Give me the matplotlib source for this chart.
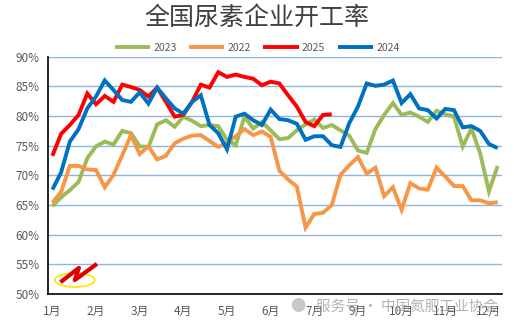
import numpy as np
import matplotlib
matplotlib.use('agg')
import matplotlib.pyplot as plt
from matplotlib.patches import Ellipse

plt.rcParams['font.family'] = ['Noto Sans CJK SC', 'DejaVu Sans']

###########################################################
# data (weekly operating rate, %)
###########################################################
month_labels = ['1月', '2月', '3月', '4月', '5月', '6月', '7月', '9月', '10月', '11月', '12月']

y2023 = [64.8, 66.3, 67.5, 68.9, 72.9, 74.9, 75.7, 75.2, 77.5, 77.1,
         74.9, 74.8, 78.6, 79.3, 78.2, 79.9, 79.2, 78.3, 78.5, 78.3,
         76.0, 75.1, 79.9, 77.9, 79.0, 77.6, 76.1, 76.3, 77.6, 78.6,
         79.4, 78.0, 78.5, 77.6, 76.7, 74.2, 73.8, 77.8, 80.2, 82.2,
         80.2, 80.6, 79.9, 79.0, 80.9, 80.3, 79.9, 74.9, 77.9, 73.7,
         67.3, 71.6]

y2022 = [65.4, 67.2, 71.6, 71.6, 71.0, 70.9, 68.0, 70.1, 73.4, 76.8,
         73.6, 74.9, 72.7, 73.3, 75.4, 76.2, 76.7, 76.8, 75.8, 74.8,
         75.5, 76.6, 77.8, 76.8, 77.4, 76.5, 70.8, 69.3, 68.1, 61.2,
         63.5, 63.7, 65.0, 70.1, 71.7, 73.1, 70.3, 71.3, 66.5, 68.0,
         64.2, 68.7, 67.8, 67.6, 71.3, 69.8, 68.2, 68.2, 65.8, 65.8,
         65.3, 65.5]

y2025 = [73.3, 77.0, 78.5, 80.2, 83.8, 82.0, 83.4, 82.4, 85.3, 84.9,
         84.4, 83.3, 84.8, 82.4, 79.9, 80.2, 82.4, 85.3, 84.8, 87.4,
         86.6, 87.0, 86.6, 86.3, 85.2, 85.8, 85.5, 83.5, 81.6, 79.0,
         78.3, 80.2, 80.3]

y2024 = [67.6, 70.5, 75.7, 77.8, 81.3, 83.3, 86.0, 84.4, 82.7, 82.4,
         84.0, 82.1, 84.8, 83.0, 81.3, 80.4, 82.4, 83.5, 78.5, 77.1,
         74.4, 79.9, 80.4, 79.3, 78.5, 81.1, 79.5, 79.3, 78.7, 76.0,
         76.6, 76.6, 75.1, 74.8, 78.8, 81.6, 85.5, 85.1, 85.3, 86.0,
         82.2, 83.7, 81.3, 81.0, 79.6, 81.2, 81.0, 78.1, 78.3, 77.5,
         75.3, 74.6]

series = [('2023', y2023, '#9BBB59'),
          ('2022', y2022, '#F79646'),
          ('2025', y2025, '#FF0000'),
          ('2024', y2024, '#0070C0')]

###########################################################
# draw
###########################################################
fig = plt.figure(figsize=(5.14, 3.30), dpi=100)
ax = fig.add_axes([0.0934, 0.109, 0.8833, 0.719])

for name, vals, col in series:
    ax.plot(np.arange(len(vals)), vals, color=col, lw=2.8, label=name,
            solid_joinstyle='miter', solid_capstyle='butt')

ax.set_xlim(-0.5, 51.5)
ax.set_ylim(50, 90)
ax.set_yticks(np.arange(50, 91, 5))
ax.set_yticklabels(['%d%%' % v for v in np.arange(50, 91, 5)])
ax.set_xticks(np.arange(0, 5 * len(month_labels), 5))
ax.set_xticklabels(month_labels)
ax.tick_params(length=0, labelsize=8.5, labelcolor='#595959', pad=6)
ax.tick_params(axis='x', pad=8)

ax.grid(axis='y', color='#8EB4E3', lw=1.0)
ax.set_axisbelow(True)
for s in ['top', 'right']:
    ax.spines[s].set_visible(False)
for s in ['left', 'bottom']:
    ax.spines[s].set_color('black')
    ax.spines[s].set_linewidth(1.2)

fig.text(0.5, 0.945, '全国尿素企业开工率', ha='center', va='center',
         fontsize=18, color='#404040')

leg = fig.legend(loc='center', bbox_to_anchor=(0.5, 0.855), ncol=4, frameon=False,
                 fontsize=7.5, handlelength=3.4, handletextpad=0.3, columnspacing=1.2)
for t in leg.get_texts():
    t.set_color('#595959')

# logo (bottom left) and watermark
ax.add_patch(Ellipse((0.059, 0.059), 0.088, 0.059, transform=ax.transAxes,
                     fill=False, ec='#FFE600', lw=1.2, zorder=5))
ax.plot([0.031, 0.068, 0.059, 0.104], [0.055, 0.110, 0.059, 0.122], transform=ax.transAxes,
        color='#E00000', lw=3.0, zorder=6, solid_joinstyle='round')
fig.text(0.565, 0.07, '\u25cf', fontsize=11, color='#BBBBBB', alpha=0.8, ha='left', va='center')
fig.text(0.615, 0.07, '服务号 · 中国氮肥工业协会', fontsize=10.5, color='#999999',
         alpha=0.75, ha='left', va='center')

fig.savefig('out.png', dpi=100)
